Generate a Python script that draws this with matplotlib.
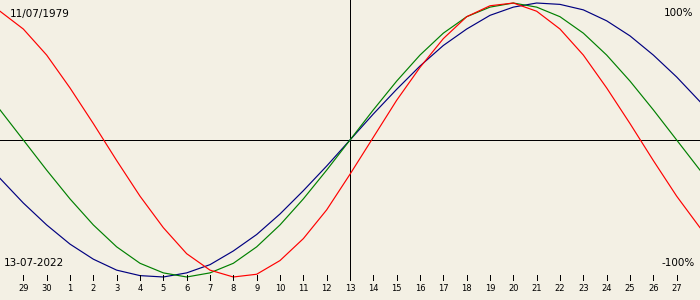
import matplotlib
matplotlib.use('Agg')
import matplotlib.pyplot as plt

# Biorhythm chart: birth date and chart date
birth_label = '11/07/1979'
date_label = '13-07-2022'

# day offset from the centre day (13th), one point per day
days = list(range(-15, 16))
day_labels = ['28', '29', '30'] + [str(i) for i in range(1, 29)]

# values (-1 .. 1)
physical = [0.94, 0.81, 0.62, 0.38, 0.12, -0.15, -0.41, -0.64, -0.83, -0.95,
            -1.00, -0.98, -0.88, -0.72, -0.51, -0.25, 0.02, 0.29, 0.53, 0.74,
            0.90, 0.98, 1.00, 0.94, 0.81, 0.62, 0.38, 0.12, -0.15, -0.41, -0.64]
emotional = [0.22, 0.00, -0.22, -0.43, -0.62, -0.78, -0.90, -0.97, -1.00, -0.97,
             -0.90, -0.78, -0.62, -0.43, -0.22, 0.00, 0.22, 0.43, 0.62, 0.78,
             0.90, 0.97, 1.00, 0.97, 0.90, 0.78, 0.62, 0.43, 0.22, 0.00, -0.22]
intellectual = [-0.28, -0.46, -0.62, -0.76, -0.87, -0.95, -0.99, -1.00, -0.97, -0.91,
                -0.81, -0.69, -0.54, -0.37, -0.19, 0.00, 0.19, 0.37, 0.54, 0.69,
                0.81, 0.91, 0.97, 1.00, 0.99, 0.95, 0.87, 0.76, 0.62, 0.46, 0.28]

bg = '#f3f0e4'
fig = plt.figure(figsize=(7, 3), dpi=100, facecolor=bg)
ax = fig.add_axes([0, 0, 1, 1])
ax.set_facecolor(bg)
ax.set_xlim(-15.0, 15.0)
ax.set_ylim(-1.168, 1.022)
ax.axis('off')

lw = 0.72  # one pixel
# cross lines
ax.axhline(0, color='black', lw=lw, antialiased=False)
ax.plot([0, 0], [-1.022, 1.1], color='black', lw=lw, antialiased=False)

ax.plot(days, intellectual, color='#000080', lw=0.85)
ax.plot(days, emotional, color='#008000', lw=0.85)
ax.plot(days, physical, color='#ff0000', lw=0.85)

# day ticks along the bottom
for d, lab in zip(days, day_labels):
    if abs(d) > 14:
        continue
    ax.plot([d, d], [-0.985, -1.022], color='black', lw=lw, antialiased=False)
    ax.text(d, -1.085, lab, fontsize=6, ha='center', va='center')

ax.text(0.014, 0.955, birth_label, transform=ax.transAxes, fontsize=7.5, va='center')
ax.text(0.006, 0.125, date_label, transform=ax.transAxes, fontsize=7.5, va='center')
ax.text(0.99, 0.958, '100%', transform=ax.transAxes, fontsize=7.5, ha='right', va='center')
ax.text(0.992, 0.125, '-100%', transform=ax.transAxes, fontsize=7.5, ha='right', va='center')

fig.savefig('out.png', dpi=100, facecolor=bg)
